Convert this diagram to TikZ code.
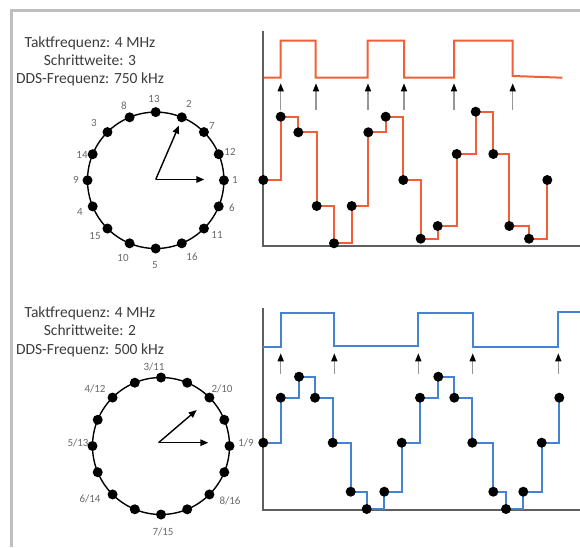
\documentclass[tikz,border=0pt]{standalone}
\usepackage{fontspec}
\setmainfont{Carlito}
\usetikzlibrary{arrows.meta}
\definecolor{ddsorange}{RGB}{240,95,55}
\definecolor{ddsblue}{RGB}{70,130,210}
\definecolor{framegray}{RGB}{190,190,190}
\definecolor{axisgray}{RGB}{95,95,95}
\definecolor{textgray}{RGB}{60,60,60}
\definecolor{labelgray}{RGB}{105,105,105}
\definecolor{shaftgray}{RGB}{150,150,150}
\begin{document}
\begin{tikzpicture}[x=1pt,y=-1pt,
 frameline/.style={draw=framegray,line width=3pt},
 axisline/.style={draw=axisgray,line width=2pt},
 dot/.style={circle,fill=black,inner sep=0pt,minimum size=10pt},
 infotext/.style={font=\fontsize{15.5}{18.3}\selectfont,text=textgray,align=center,inner sep=0pt},
 numlabel/.style={font=\fontsize{11}{13}\selectfont,text=labelgray,inner sep=0pt},
 wheel/.style={draw=black,line width=1.4pt},
 pointer/.style={draw=black,line width=1.4pt,-{Triangle[length=8pt,width=6.5pt]}},
 clockarrow/.style={draw=shaftgray,line width=1.4pt,-{Triangle[length=8pt,width=6pt,color=black]}},
 signal/.style={line width=2pt,line join=miter},
]
\useasboundingbox (0,0) rectangle (580,547);
% frame
\coordinate (fl) at (11.3,547);
\coordinate (fc) at (11.3,10);
\coordinate (fr) at (580,10);
\draw[frameline] (fl) -- (fc) -- (fr);

% ================= TOP =================
\node[infotext] (tinfo) at (90,61.5) {Taktfrequenz: 4 MHz\\Schrittweite: 3\\DDS-Frequenz: 750 kHz};

\coordinate (tc) at (155.7,180.3);
\draw[wheel] (tc) circle[radius=68.2pt];
\foreach \k in {0,...,15}{
  \node[dot] (tw\k) at ([shift={(\k*22.5:68.2pt)}]tc) {};
}
\foreach \t/\x/\y in {1/235/180,12/230/152,7/212/126,2/189/104,13/154/99,8/124/106,3/94/123,14/82/155,9/76/180,4/80/212,15/95/236,10/123/258,5/155/265,16/192/257,11/217/235,6/232/208}{
  \node[numlabel] (tl\t) at (\x,\y) {\t};
}
\coordinate (to) at (155.7,179.5);
\coordinate (tp1) at (204.3,179.5);
\coordinate (tp2) at (179,125.5);
\draw[pointer] (to) -- (tp1);
\draw[pointer] (to) -- (tp2);

% axes
\coordinate (tay) at (263.3,30.7);
\coordinate (tao) at (263.3,245.7);
\coordinate (tax) at (580,245.7);
\draw[axisline] (tay) -- (tao) -- (tax);

% square wave
\draw[signal,ddsorange] (264,77.7) -- (280.7,77.7) -- (280.7,40.7) -- (315.7,40.7) -- (315.7,77.7) -- (367.7,77.7) -- (367.7,40.7) -- (404,40.7) -- (404,77.7) -- (454,77.7) -- (454,40.7) -- (512.7,40.7) -- (512.7,76) -- (562.3,77.7);

% clock arrows
\foreach \x [count=\i] in {280.7,316,368,404,454,512.7}{
  \coordinate (tcb\i) at (\x,110);
  \coordinate (tct\i) at (\x,83.3);
  \draw[clockarrow] (tcb\i) -- (tct\i);
}

% staircase
\foreach \x/\y [count=\i from 0] in {263.3/180,280.7/116.7,298.3/132.3,316.7/206,334/243.3,351.7/206,368.3/132.3,385.7/116.7,403.3/180,420.7/238.7,437.7/226,456.7/154,475.7/111.7,493.3/154,509.3/226,529/238.7,547.3/180}{
  \coordinate (ts\i) at (\x,\y);
}
\draw[signal,ddsorange] (ts0) \foreach \i in {1,...,16}{ -| (ts\i)};
\foreach \i in {0,...,16}{ \node[dot] (tsd\i) at (ts\i) {}; }

% ================= BOTTOM =================
\node[infotext] (binfo) at (90,331.8) {Taktfrequenz: 4 MHz\\Schrittweite: 2\\DDS-Frequenz: 500 kHz};

\coordinate (bc) at (161,446);
\draw[wheel] (bc) circle[radius=68.5pt];
\foreach \k in {0,...,15}{
  \node[dot] (bw\k) at ([shift={(\k*22.5:68.5pt)}]bc) {};
}
\foreach \t/\x/\y [count=\i] in {{3/11}/154/366.7,{2/10}/222/389,{1/9}/246/443,{8/16}/230/501,{7/15}/163/531.7,{6/14}/90/499,{5/13}/78/442.7,{4/12}/95/389.3}{
  \node[numlabel] (bl\i) at (\x,\y) {\t};
}
\coordinate (bo) at (158.5,442.7);
\coordinate (bp1) at (208.3,442.7);
\coordinate (bp2) at (196.7,410);
\draw[pointer] (bo) -- (bp1);
\draw[pointer] (bo) -- (bp2);

% axes
\coordinate (bay) at (263.3,308.3);
\coordinate (bao) at (263.3,510);
\coordinate (bax) at (580,510);
\draw[axisline] (bay) -- (bao) -- (bax);

% square wave
\draw[signal,ddsblue] (263.3,346.7) -- (280.7,346.7) -- (280.7,313.3) -- (334.3,313.3) -- (334.3,346) -- (418.3,346) -- (418.3,313.3) -- (472.7,313.3) -- (472.7,346.7) -- (558.3,346.7) -- (558.3,311.7) -- (580,311.7);

% clock arrows
\foreach \x [count=\i] in {280.7,334.3,418.3,472.7,558.3}{
  \coordinate (bcb\i) at (\x,374);
  \coordinate (bct\i) at (\x,353.3);
  \draw[clockarrow] (bcb\i) -- (bct\i);
}

% staircase
\foreach \x/\y [count=\i from 0] in {263.3/442.7,280.7/397.7,299/376.7,315/397.7,332.7/442.7,350.7/491.7,366.7/509,384.3/491.7,401.7/442.7,420/397.7,438.3/376.7,454.3/397.7,472.3/442.7,493.3/491.7,506/509,523.3/491.7,541.7/442.7,559.3/397.7}{
  \coordinate (bs\i) at (\x,\y);
}
\draw[signal,ddsblue] (bs0) \foreach \i in {1,...,17}{ -| (bs\i)};
\foreach \i in {0,...,17}{ \node[dot] (bsd\i) at (bs\i) {}; }
\end{tikzpicture}
\end{document}
